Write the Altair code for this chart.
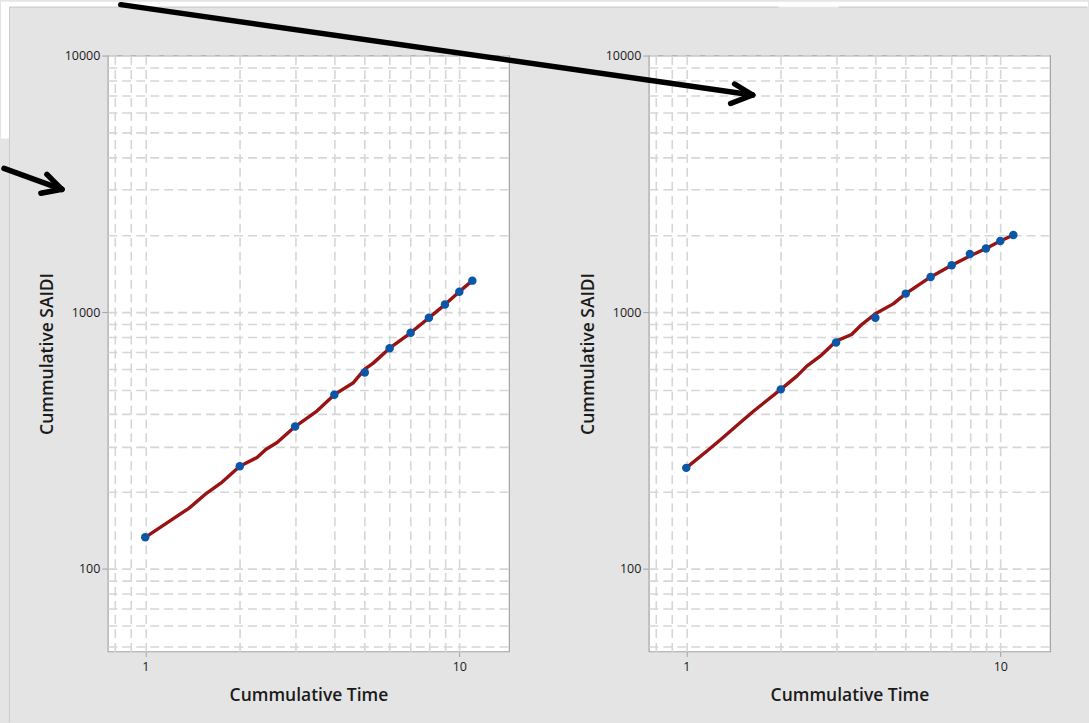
import altair as alt
import pandas as pd

# ---------------- data ----------------
time = [1, 2, 3, 4, 5, 6, 7, 8, 9, 10, 11]
saidi_left = [132.8, 251.3, 358.6, 477.5, 583, 724.7, 831.6, 951, 1071, 1203, 1328]
saidi_right = [247.6, 500.7, 762.5, 951, 1182, 1373, 1523, 1687, 1773, 1895, 1999]

fit_left_time = [1, 1.38, 1.57, 1.74, 2, 2.27, 2.42, 2.63, 3, 3.52, 4, 4.6, 5, 5.32, 6, 7, 8, 9, 10, 11]
fit_left_vals = [132.8, 172.6, 197.5, 215.8, 251.3, 271.8, 291.9, 310.7, 358.6, 412.3, 477.5,
                 531.6, 600, 633.6, 724.7, 831.6, 951, 1071, 1203, 1328]

fit_right_time = [1, 1.18, 1.31, 1.48, 1.64, 2, 2.25, 2.42, 2.67, 3, 3.36, 3.62, 4, 4.56,
                  5, 6, 7, 8, 9, 10, 11]
fit_right_vals = [247.6, 291.9, 325, 370.4, 412.3, 500.7, 564, 616.9, 674.5, 771.6, 819, 896,
                  986, 1078, 1182, 1373, 1523, 1656, 1773, 1895, 1999]

x_grid_values = [0.8, 0.9, 1, 2, 3, 4, 5, 6, 7, 8, 9, 10]
x_labels = [1, 10]
y_grid_values = [50, 60, 70, 80, 90, 100, 200, 300, 400, 500, 600, 700, 800, 900,
                 1000, 2000, 3000, 4000, 5000, 6000, 7000, 8000, 9000, 10000]
y_labels = [100, 1000, 10000]

x_title = "Cummulative Time"
y_title = "Cummulative SAIDI"

# ---------------- styling ----------------
BG = "#e4e4e4"
FONT = "Open Sans"
TEXT = "#1a1a1a"
FRAME = "#a3a3a3"
GRID = "#d6d6d6"
LINE_COL = "#981414"
PT_COL = "#0a56a8"

W, H = 402, 597
PANEL_L_X, PANEL_R_X, PANEL_Y = 107, 649, 54   # canvas offsets of the two plot areas

x_test = " || ".join(f"datum.value == {v}" for v in x_labels)
y_test = " || ".join(f"datum.value == {v}" for v in y_labels)

x_axis = alt.Axis(
    values=x_grid_values,
    labelExpr=f"({x_test}) ? format(datum.value, 'd') : ''",
    labelOverlap=False, labelFlush=False,
    grid=True, gridColor=GRID, gridDash=[9, 5], gridWidth=1.6,
    domain=False,
    tickSize=5, tickColor=FRAME,
    tickOpacity={"condition": {"test": x_test, "value": 1}, "value": 0},
    labelPadding=4, labelFont=FONT, labelFontSize=12.5, labelFontWeight=500, labelColor=TEXT,
    title=x_title, titleFont=FONT, titleFontSize=17.5, titleFontWeight=600,
    titleColor=TEXT, titleY=49, titleBaseline="alphabetic",
)
y_axis = alt.Axis(
    values=y_grid_values,
    labelExpr=f"({y_test}) ? format(datum.value, 'd') : ''",
    labelOverlap=False, labelFlush=False,
    grid=True, gridColor=GRID, gridDash=[9, 5], gridWidth=1.6,
    domain=False,
    tickSize=6, tickColor=FRAME,
    tickOpacity={"condition": {"test": y_test, "value": 1}, "value": 0},
    labelPadding=2, labelFont=FONT, labelFontSize=12.5, labelFontWeight=500, labelColor=TEXT,
    title=y_title, titleFont=FONT, titleFontSize=17.5, titleFontWeight=600,
    titleColor=TEXT, titleX=-55, titleBaseline="alphabetic",
)

x_scale = alt.Scale(type="log", domain=[0.76, 14.4], nice=False)
y_scale = alt.Scale(type="log", domain=[47.7, 10000], nice=False)

ann_df = pd.DataFrame({"k": [0]})


def seg(ox, oy, x1, y1, x2, y2, color="black", width=5, cap="round"):
    return alt.Chart(ann_df).mark_rule(color=color, strokeWidth=width, strokeCap=cap).encode(
        x=alt.value(x1 - ox), y=alt.value(y1 - oy),
        x2=alt.value(x2 - ox), y2=alt.value(y2 - oy))


def box(ox, oy, x1, y1, x2, y2, color):
    return alt.Chart(ann_df).mark_rect(color=color, strokeWidth=0).encode(
        x=alt.value(x1 - ox), y=alt.value(y1 - oy),
        x2=alt.value(x2 - ox), y2=alt.value(y2 - oy))


def panel(times, vals, ftime, fvals, extra_before, extra_after):
    pts = pd.DataFrame({"t": times, "v": vals})
    fit = pd.DataFrame({"t": ftime, "v": fvals})
    enc_x = alt.X("t:Q", scale=x_scale, axis=x_axis)
    enc_y = alt.Y("v:Q", scale=y_scale, axis=y_axis)
    line = alt.Chart(fit).mark_line(color=LINE_COL, strokeWidth=3.4, clip=True,
                                    strokeJoin="round").encode(
        x=enc_x, y=enc_y, order="t:Q")
    dots = alt.Chart(pts).mark_circle(color=PT_COL, size=72, opacity=1).encode(
        x=enc_x, y=enc_y)
    return alt.layer(*extra_before, line, dots, *extra_after).properties(width=W, height=H)


oxl, oxr, oy = PANEL_L_X, PANEL_R_X, PANEL_Y

left_before = [
    box(oxl, oy, 0, 0, 1089, 5, "white"),          # white strip along the top
    box(oxl, oy, 0, 0, 8, 137, "white"),           # white box on the left edge
    box(oxl, oy, 9, 716, 1089, 723, BG),           # bottom filler
    seg(oxl, oy, 8.5, 5, 8.5, 722, color="#cbcbcb", width=1, cap="butt"),
    seg(oxl, oy, 9, 5.5, 779, 5.5, color="#c8c8c8", width=1, cap="butt"),
    seg(oxl, oy, 839, 5.5, 1088, 5.5, color="#c8c8c8", width=1, cap="butt"),
]
left_after = [
    seg(oxl, oy, 3, 167, 61, 188, width=5.5),
    seg(oxl, oy, 46, 173, 61, 188, width=5.5),
    seg(oxl, oy, 40, 192, 61, 188, width=5.5),
]
right_after = [
    seg(oxr, oy, 120, 3, 753, 93.5, width=5.5),
    seg(oxr, oy, 735, 82.5, 753, 93.5, width=5.5),
    seg(oxr, oy, 731, 102, 753, 93.5, width=5.5),
]

left = panel(time, saidi_left, fit_left_time, fit_left_vals, left_before, left_after)
right = panel(time, saidi_right, fit_right_time, fit_right_vals, [], right_after)

chart = alt.hconcat(left, right, spacing=PANEL_R_X - PANEL_L_X - W, bounds="flush").properties(
    padding=0, background=BG
).configure_view(fill="white", stroke=FRAME, strokeWidth=1.2)

chart.save("out.html", embed_options={"renderer": "svg", "actions": False})
